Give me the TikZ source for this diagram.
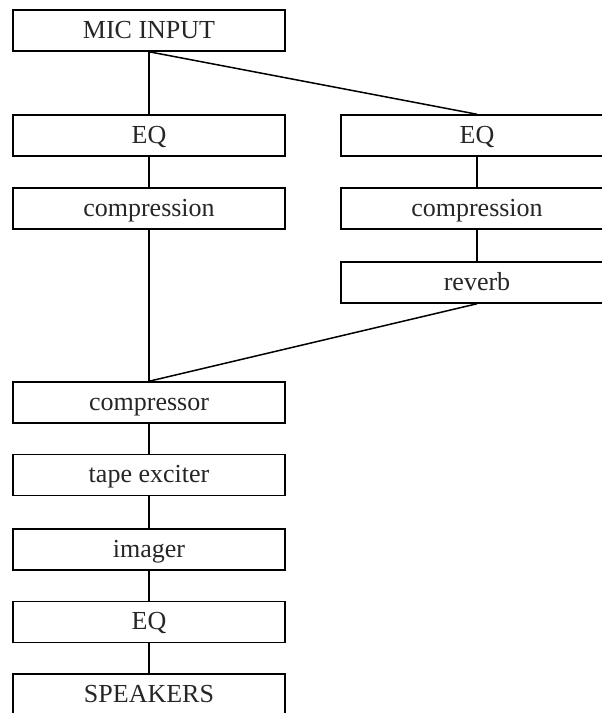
\documentclass[tikz,border=0pt]{standalone}
\usepackage{fontspec}
\setmainfont{Liberation Serif}
\begin{document}
\begin{tikzpicture}[x=1pt,y=-1pt,
  blk/.style={draw, line width=1.5pt, minimum width=272pt, minimum height=41pt,
    inner sep=0pt, text height=18.5pt, text depth=3.5pt,
    font=\fontsize{26}{30}\selectfont, text=black!85},
  conn/.style={line width=1.5pt}]
\clip (0,0) rectangle (602,713);
\useasboundingbox (0,0) rectangle (602,713);
\node[blk] (mic) at (149,30.5) {MIC INPUT};
\node[blk] (eqL) at (149,135.5) {EQ};
\node[blk] (compL) at (149,208.5) {compression};
\node[blk] (eqR) at (477,135.5) {EQ};
\node[blk] (compR) at (477,208.5) {compression};
\node[blk] (rev) at (477,282.5) {reverb};
\node[blk] (compr) at (149,402.5) {compressor};
\node[blk] (tape) at (149,475) {tape exciter};
\node[blk] (img) at (149,549.5) {imager};
\node[blk] (eqB) at (149,622) {EQ};
\node[blk] (spk) at (149,694.5) {SPEAKERS};
\draw[conn] (mic.south) -- (eqL.north);
\draw[conn] (mic.south) -- (eqR.north);
\draw[conn] (eqL.south) -- (compL.north);
\draw[conn] (compL.south) -- (compr.north);
\draw[conn] (eqR.south) -- (compR.north);
\draw[conn] (compR.south) -- (rev.north);
\draw[conn] (rev.south) -- (compr.north);
\draw[conn] (compr.south) -- (tape.north);
\draw[conn] (tape.south) -- (img.north);
\draw[conn] (img.south) -- (eqB.north);
\draw[conn] (eqB.south) -- (spk.north);
\end{tikzpicture}
\end{document}
